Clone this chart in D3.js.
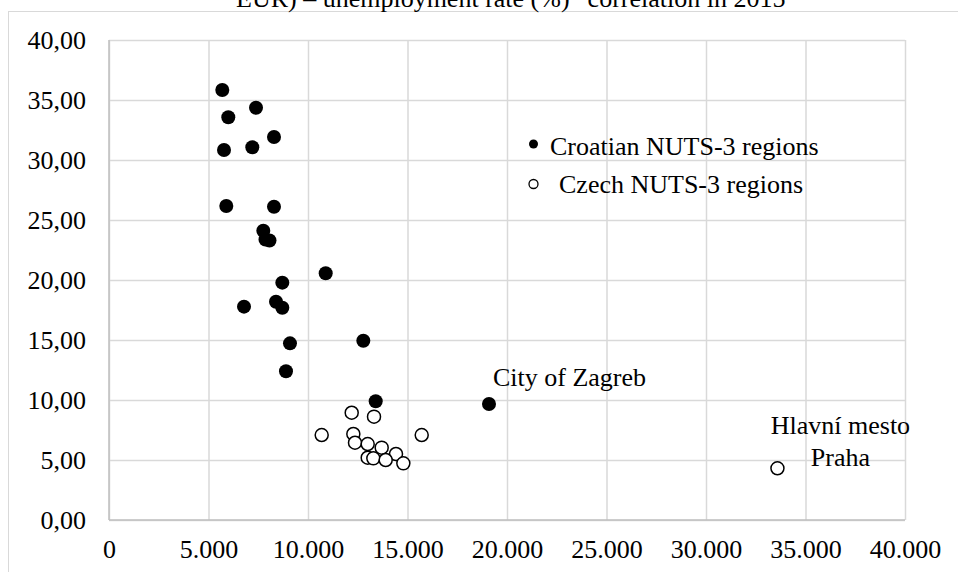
<!DOCTYPE html>
<html>
<head>
<meta charset="utf-8">
<script src="https://cdn.jsdelivr.net/npm/d3@7"></script>
<style>
  body { margin: 0; background: #fff; }
  svg { display: block; font-family: "Liberation Serif", "Times New Roman", serif; }
</style>
</head>
<body>
<script>
'use strict';

// GDP per capita (EUR) of each region
let croatiaGdp = [5693, 7387, 5995, 8291, 7201, 5779, 5894, 8291, 7754, 7864, 8065,
  10889, 8709, 8392, 6784, 8709, 9095, 12780, 8894, 13402, 19095];
// unemployment rate (%) of each region
let croatiaRate = [35.83, 34.36, 33.56, 31.92, 31.06, 30.83, 26.17, 26.11, 24.11, 23.38, 23.29,
  20.56, 19.78, 18.19, 17.78, 17.69, 14.72, 14.94, 12.39, 9.90, 9.67];

let czechGdp = [12196, 13317, 10688, 12278, 15714, 12362, 13000, 13703, 14422, 13000, 13283,
  13904, 14791, 33590];
let czechRate = [8.94, 8.61, 7.08, 7.17, 7.08, 6.44, 6.33, 6.03, 5.50, 5.19, 5.14,
  5.00, 4.72, 4.31];

let xTicks = [0, 5000, 10000, 15000, 20000, 25000, 30000, 35000, 40000];
let yTicks = [0, 5, 10, 15, 20, 25, 30, 35, 40];

let seriesNames = ["Croatian NUTS-3 regions", "Czech NUTS-3 regions"];
let titleText = "EUR) \u2013 unemployment rate (%)\u201d  correlation in 2015";

(function() {
  let width = 958, height = 572;
  let left = 109, right = 905, top = 40, bottom = 520;

  let locale = d3.formatLocale({ decimal: ",", thousands: ".", grouping: [3], currency: ["", ""] });

  let svg = d3.select("body").append("svg")
    .attr("width", width)
    .attr("height", height);

  // outer chart border (only top and left edges are inside the picture)
  svg.append("rect")
    .attr("x", 8.5)
    .attr("y", 11.5)
    .attr("width", width + 20)
    .attr("height", height + 20)
    .style("fill", "none")
    .style("stroke", "#d9d9d9")
    .style("stroke-width", 1);

  // title, cut off at the top
  svg.append("text")
    .attr("x", 236)
    .attr("y", 7)
    .style("font-size", "26px")
    .style("fill", "#000")
    .text(titleText);

  let xScale = d3.scaleLinear().domain([0, 40000]).range([left, right]);
  let yScale = d3.scaleLinear().domain([0, 40]).range([bottom, top]);

  // x axis with vertical gridlines
  let xAxis = d3.axisBottom(xScale)
    .tickValues(xTicks)
    .tickSize(-(bottom - top))
    .tickPadding(20)
    .tickFormat(d => d === 0 ? "0" : locale.format(",")(d));
  let gx = svg.append("g")
    .attr("transform", "translate(0," + bottom + ")")
    .call(xAxis);
  gx.select(".domain").remove();
  gx.selectAll("line").style("stroke", "#d9d9d9").style("stroke-width", 1.5);
  gx.selectAll("text").style("font-size", "26px").style("fill", "#000")
    .style("font-family", "'Liberation Serif', 'Times New Roman', serif");

  // y axis with horizontal gridlines
  let yAxis = d3.axisLeft(yScale)
    .tickValues(yTicks)
    .tickSize(-(right - left))
    .tickPadding(23)
    .tickFormat(d => locale.format(".2f")(d));
  let gy = svg.append("g")
    .attr("transform", "translate(" + left + ",0)")
    .call(yAxis);
  gy.select(".domain").remove();
  gy.selectAll("line").style("stroke", "#d9d9d9").style("stroke-width", 1.5);
  gy.selectAll("text").style("font-size", "26px").style("fill", "#000")
    .style("font-family", "'Liberation Serif', 'Times New Roman', serif");

  // axis lines
  svg.append("line")
    .attr("x1", left).attr("x2", right)
    .attr("y1", bottom).attr("y2", bottom)
    .style("stroke", "#bfbfbf").style("stroke-width", 1.5);
  svg.append("line")
    .attr("x1", left).attr("x2", left)
    .attr("y1", top).attr("y2", bottom)
    .style("stroke", "#bfbfbf").style("stroke-width", 1.5);

  // Croatian regions - filled markers
  svg.selectAll(".hr")
    .data(d3.range(croatiaGdp.length))
    .enter()
    .append("circle")
    .attr("class", "hr")
    .attr("cx", i => xScale(croatiaGdp[i]))
    .attr("cy", i => yScale(croatiaRate[i]))
    .attr("r", 7)
    .style("fill", "#000");

  // Czech regions - open markers
  svg.selectAll(".cz")
    .data(d3.range(czechGdp.length))
    .enter()
    .append("circle")
    .attr("class", "cz")
    .attr("cx", i => xScale(czechGdp[i]))
    .attr("cy", i => yScale(czechRate[i]))
    .attr("r", 6.5)
    .style("fill", "#fff")
    .style("stroke", "#000")
    .style("stroke-width", 1.5);

  // point labels
  let zg = croatiaGdp.length - 1;
  svg.append("text")
    .attr("x", xScale(croatiaGdp[zg]) + 4)
    .attr("y", yScale(croatiaRate[zg]) - 18)
    .style("font-size", "26px")
    .text("City of Zagreb");

  let pr = czechGdp.length - 1;
  let prX = xScale(czechGdp[pr]) + 63;
  svg.append("text")
    .attr("x", prX)
    .attr("y", yScale(czechRate[pr]) - 34)
    .attr("text-anchor", "middle")
    .style("font-size", "26px")
    .text("Hlavní mesto");
  svg.append("text")
    .attr("x", prX)
    .attr("y", yScale(czechRate[pr]) - 2)
    .attr("text-anchor", "middle")
    .style("font-size", "26px")
    .text("Praha");

  // legend
  svg.append("circle")
    .attr("cx", 533.5).attr("cy", 144)
    .attr("r", 4.5)
    .style("fill", "#000");
  svg.append("text")
    .attr("x", 550).attr("y", 155)
    .style("font-size", "26px")
    .text(seriesNames[0]);

  svg.append("circle")
    .attr("cx", 533.5).attr("cy", 184)
    .attr("r", 4.5)
    .style("fill", "#fff")
    .style("stroke", "#000")
    .style("stroke-width", 1.3);
  svg.append("text")
    .attr("x", 559).attr("y", 193)
    .style("font-size", "26px")
    .text(seriesNames[1]);
})();
</script>
</body>
</html>
